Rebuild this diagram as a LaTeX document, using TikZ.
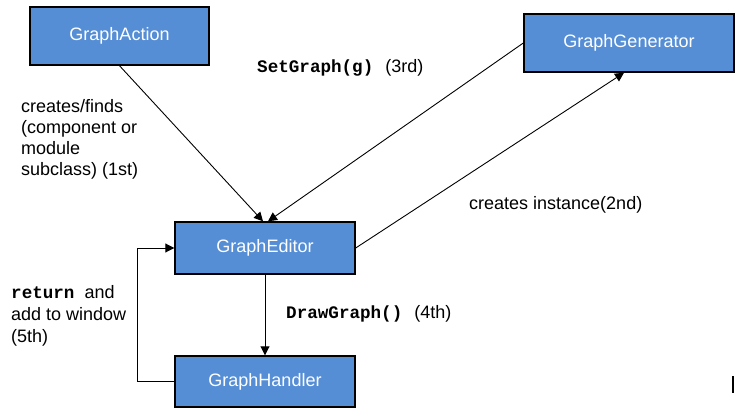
\documentclass[tikz,border=0pt]{standalone}
\usepackage{fontspec}
\setmainfont{Liberation Sans}
\setmonofont{Liberation Mono}
\usetikzlibrary{arrows.meta}
\definecolor{boxblue}{RGB}{85,142,213}
\tikzset{
  box/.style={draw=black, line width=1.4pt, fill=boxblue, text=white,
    font=\fontsize{18}{21}\selectfont, inner sep=0pt},
  conn/.style={draw=black, line width=0.9pt, -{Triangle[length=9pt,width=9pt]}},
  lbl/.style={inner sep=0pt, font=\fontsize{18}{21}\selectfont, text=black}
}
\newcommand{\codetxt}[1]{{\fontsize{17.6}{21}\ttfamily\bfseries #1}}
\begin{document}
\begin{tikzpicture}[x=1pt,y=-1pt]
\useasboundingbox (0,0) rectangle (750,414);
\node[box, minimum width=179pt, minimum height=58pt] (ga) at (119.5,36) {GraphAction};
\node[box, minimum width=210pt, minimum height=58pt] (gg) at (629,43) {GraphGenerator};
\node[box, minimum width=180pt, minimum height=52pt] (ge) at (265,248) {GraphEditor};
\node[box, minimum width=180pt, minimum height=51pt] (gh) at (265,381.5) {GraphHandler};

\draw[conn] (ga.south) -- ([xshift=-2pt]ge.north);
\draw[conn] (gg.west) -- ([xshift=3pt]ge.north);
\draw[conn] (ge.east) -- ([xshift=-5pt]gg.south);
\draw[conn] (ge.south) -- (gh.north);
\coordinate (bend) at (137.5,381.5);
\draw[conn] (gh.west) -- (bend) |- (ge.west);

\node[lbl, anchor=north west, align=left] (l1) at (21,99)
  {creates/finds\\(component or\\module\\subclass) (1st)};
\node[lbl, anchor=base west] (l3) at (257,73)
  {\codetxt{SetGraph(g)}\hspace{12pt}(3rd)};
\node[lbl, anchor=base west] (l2) at (469,210) {creates instance(2nd)};
\node[lbl, anchor=base west] (l4) at (286,318)
  {\codetxt{DrawGraph()}\hspace{12pt}(4th)};
\node[lbl, anchor=north west, align=left, font=\fontsize{18}{22}\selectfont] (l5) at (11,285)
  {\codetxt{return}\hspace{10pt}and\\add to window\\(5th)};

\coordinate (m1) at (733,376);
\coordinate (m2) at (733,393);
\draw[line width=1.3pt] (m1) -- (m2);
\end{tikzpicture}
\end{document}
